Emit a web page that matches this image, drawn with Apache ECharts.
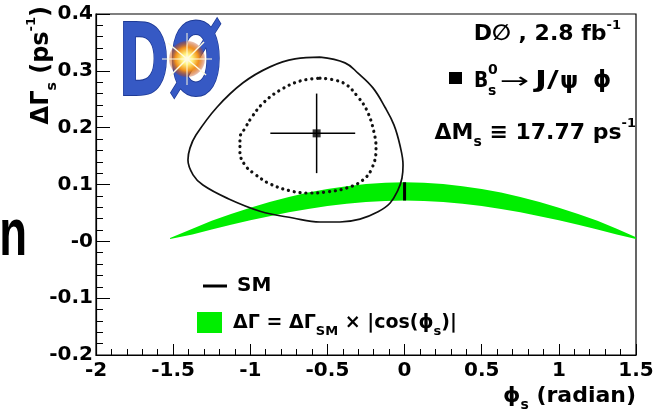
<!DOCTYPE html>
<html><head><meta charset="utf-8">
<script src="https://cdn.jsdelivr.net/npm/echarts@6/dist/echarts.min.js"></script>
<style>html,body{margin:0;padding:0;background:#fff}#c{width:659px;height:414px}</style>
</head><body><div id="c"></div>
<script>
// ---- tick labels ----
const xTicks = [-2, -1.5, -1, -0.5, 0, 0.5, 1, 1.5];
const xTickLabels = ['-2', '-1.5', '-1', '-0.5', '0', '0.5', '1', '1.5'];
const yTicks = [-0.2, -0.1, 0, 0.1, 0.2, 0.3, 0.4];
const yTickLabels = ['-0.2', '-0.1', '-0', '0.1', '0.2', '0.3', '0.4'];

// ---- outer (solid) contour: phi_s, DeltaGamma_s ----
const solidPhi = [-0.548, -0.386, -0.302, -0.205, -0.127, -0.069, -0.030, -0.010, -0.017, -0.043, -0.095, -0.172, -0.289, -0.419, -0.548, -0.723, -0.937, -1.151, -1.307, -1.371, -1.404, -1.391, -1.352, -1.216, -1.047, -0.872, -0.710, -0.548];
const solidDG  = [0.324, 0.314, 0.296, 0.270, 0.236, 0.205, 0.169, 0.134, 0.111, 0.090, 0.067, 0.052, 0.039, 0.034, 0.034, 0.041, 0.053, 0.076, 0.099, 0.117, 0.143, 0.164, 0.187, 0.236, 0.279, 0.307, 0.321, 0.324];

// ---- inner (dotted) contour ----
const dottedPhi = [-0.548, -0.399, -0.302, -0.237, -0.192, -0.185, -0.211, -0.269, -0.373, -0.503, -0.632, -0.743, -0.872, -0.969, -1.034, -1.067, -1.067, -1.034, -0.989, -0.918, -0.807, -0.678, -0.548];
const dottedDG  = [0.287, 0.279, 0.254, 0.226, 0.184, 0.161, 0.129, 0.108, 0.094, 0.087, 0.085, 0.089, 0.101, 0.118, 0.134, 0.157, 0.182, 0.199, 0.219, 0.243, 0.266, 0.282, 0.287];

// ---- green band: DeltaGamma = DeltaGamma_SM x |cos(phi_s)| ----
const bandPhi  = [-1.52, -1.375, -1.25, -1.125, -1.0, -0.875, -0.75, -0.625, -0.5, -0.375, -0.25, -0.125, 0, 0.125, 0.25, 0.375, 0.5, 0.625, 0.75, 0.875, 1.0, 1.125, 1.25, 1.375, 1.5];
const bandHigh = [0.006, 0.022, 0.036, 0.048, 0.059, 0.069, 0.078, 0.086, 0.092, 0.097, 0.101, 0.103, 0.104, 0.103, 0.101, 0.097, 0.092, 0.086, 0.078, 0.069, 0.059, 0.048, 0.036, 0.022, 0.007];
const bandLow  = [0.004, 0.012, 0.021, 0.029, 0.037, 0.044, 0.051, 0.057, 0.062, 0.066, 0.069, 0.071, 0.072, 0.071, 0.069, 0.066, 0.062, 0.057, 0.051, 0.044, 0.037, 0.029, 0.021, 0.012, 0.004];

// ---- measurement with errors ----
const measPhi = [-0.57], measPhiErrMinus = [0.30], measPhiErrPlus = [0.25];
const measDG  = [0.19],  measDGErrMinus  = [0.07], measDGErrPlus  = [0.07];

// ---- SM prediction ----
const smPhi = [0.0], smDG = [0.088], smDGErr = [0.016];

const FONT = '"DejaVu Sans"';
const lab = (ticks, labels) => v => { const i = ticks.findIndex(t => Math.abs(t - v) < 1e-9); return i >= 0 ? labels[i] : ''; };
const zip = (a, b) => a.map((v, i) => [v, b[i]]);
const txt = (x, y, text, size, opts, weight) => Object.assign({type: 'text', x: x, y: y,
  style: {text: text, font: (weight || 'bold') + ' ' + size + 'px ' + FONT, fill: '#000', align: 'left', verticalAlign: 'middle'}}, opts || {});

const chart = echarts.init(document.getElementById('c'), null, {renderer: 'canvas'});
chart.setOption({
  animation: false,
  backgroundColor: '#fff',
  grid: {left: 96, top: 14, right: 23, bottom: 59, show: true, borderColor: '#000', borderWidth: 1.2, containLabel: false},
  xAxis: {
    type: 'value', min: -2, max: 1.5, interval: 0.5,
    axisLine: {onZero: false, lineStyle: {color: '#000', width: 1.2}},
    axisTick: {inside: true, length: 11, lineStyle: {color: '#000', width: 1}},
    minorTick: {show: true, splitNumber: 5, length: 6, lineStyle: {color: '#000', width: 1}},
    splitLine: {show: false},
    axisLabel: {formatter: lab(xTicks, xTickLabels), color: '#000', fontFamily: FONT, fontWeight: 'bold', fontSize: 20, margin: 6}
  },
  yAxis: {
    type: 'value', min: -0.2, max: 0.4, interval: 0.1,
    axisLine: {onZero: false, lineStyle: {color: '#000', width: 1.2}},
    axisTick: {inside: true, length: 14, lineStyle: {color: '#000', width: 1}},
    minorTick: {show: true, splitNumber: 5, length: 7, lineStyle: {color: '#000', width: 1}},
    splitLine: {show: false},
    axisLabel: {formatter: lab(yTicks, yTickLabels), color: '#000', fontFamily: FONT, fontWeight: 'bold', fontSize: 20, margin: 3}
  },
  series: [
    {
      name: 'band', type: 'custom', z: 1,
      data: bandPhi.map((p, i) => [p, bandHigh[i], bandLow[i]]),
      encode: {x: 0, y: [1, 2]},
      renderItem: function (params, api) {
        if (params.dataIndex !== 0) return null;
        const pts = [];
        for (let i = 0; i < bandPhi.length; i++) pts.push(api.coord([bandPhi[i], bandHigh[i]]));
        for (let i = bandPhi.length - 1; i >= 0; i--) pts.push(api.coord([bandPhi[i], bandLow[i]]));
        return {type: 'polygon', shape: {points: pts}, style: {fill: '#00ee00', stroke: null}};
      }
    },
    {
      name: 'contour outer', type: 'line', z: 3, data: zip(solidPhi, solidDG),
      smooth: 0.4, showSymbol: false, symbol: 'none',
      lineStyle: {color: '#111', width: 1.7}
    },
    {
      name: 'contour inner', type: 'line', z: 3, data: zip(dottedPhi, dottedDG),
      smooth: 0.4, showSymbol: false, symbol: 'none',
      lineStyle: {color: '#111', width: 3.2, type: [0.1, 5.8], cap: 'round'}
    },
    {
      name: 'SM', type: 'line', z: 4,
      data: [[smPhi[0], smDG[0] - smDGErr[0]], [smPhi[0], smDG[0] + smDGErr[0]]],
      showSymbol: false, symbol: 'none', lineStyle: {color: '#000', width: 3}
    },
    {
      name: 'errors', type: 'custom', z: 4,
      data: measPhi.map((p, i) => [p, measDG[i], p - measPhiErrMinus[i], p + measPhiErrPlus[i], measDG[i] - measDGErrMinus[i], measDG[i] + measDGErrPlus[i]]),
      encode: {x: 0, y: 1},
      renderItem: function (params, api) {
        const x = api.value(0), y = api.value(1);
        const l = api.coord([api.value(2), y]), r = api.coord([api.value(3), y]);
        const b = api.coord([x, api.value(4)]), t = api.coord([x, api.value(5)]);
        const st = {stroke: '#000', lineWidth: 1.5};
        return {type: 'group', children: [
          {type: 'line', shape: {x1: l[0], y1: l[1], x2: r[0], y2: r[1]}, style: st},
          {type: 'line', shape: {x1: b[0], y1: b[1], x2: t[0], y2: t[1]}, style: st}
        ]};
      }
    },
    {
      name: 'B_s -> J/psi phi', type: 'scatter', z: 5,
      data: zip(measPhi, measDG), symbol: 'rect', symbolSize: 8,
      itemStyle: {color: '#000'}
    }
  ],
  graphic: [
    // stray slide letter at left edge
    {type: 'text', x: 27, y: 237, scaleX: 0.68, style: {text: 'n', font: 'bold 67px "Liberation Sans"', fill: '#000', align: 'right', verticalAlign: 'middle'}},
    // DØ logo (approximation)
    {type: 'text', x: 118, y: 19, scaleX: 0.62, scaleY: 1.0, z: 10,
      style: {text: 'DØ', font: 'bold 100px "DejaVu Sans"', fill: '#3659c4', stroke: '#1e3a96', lineWidth: 2, align: 'left', verticalAlign: 'top'}},
    {type: 'circle', shape: {cx: 187, cy: 59, r: 18}, z: 11,
      style: {fill: {type: 'radial', x: 0.5, y: 0.5, r: 0.5, colorStops: [
        {offset: 0, color: '#ffffff'}, {offset: 0.3, color: '#fff07a'}, {offset: 0.65, color: '#f2921c'}, {offset: 1, color: 'rgba(190,60,10,0.3)'}]}}},
    {type: 'line', shape: {x1: 168, y1: 43, x2: 206, y2: 75}, z: 12, style: {stroke: '#fffbe0', lineWidth: 1.5}},
    {type: 'line', shape: {x1: 204, y1: 42, x2: 170, y2: 76}, z: 12, style: {stroke: '#fffbe0', lineWidth: 1.5}},
    {type: 'line', shape: {x1: 187, y1: 33, x2: 187, y2: 85}, z: 12, style: {stroke: '#fffbe0', lineWidth: 1}},
    {type: 'line', shape: {x1: 162, y1: 59, x2: 212, y2: 59}, z: 12, style: {stroke: '#fffbe0', lineWidth: 1}},

    // y axis title
    {type: 'text', x: 42, y: 6, rotation: Math.PI / 2,
      style: {text: 'ΔΓ{sub|s} (ps{sup|-1})', font: 'bold 24px ' + FONT, fill: '#000', align: 'right', verticalAlign: 'middle',
        rich: {sub: {fontFamily: 'DejaVu Sans', fontWeight: 'bold', fontSize: 14, verticalAlign: 'bottom', lineHeight: 34},
               sup: {fontFamily: 'DejaVu Sans', fontWeight: 'bold', fontSize: 13, verticalAlign: 'top', lineHeight: 34}}}},
    // x axis title
    {type: 'text', x: 636, y: 396,
      style: {text: 'ϕ{sub|s} (radian)', font: 'bold 22px ' + FONT, fill: '#000', align: 'right', verticalAlign: 'middle',
        rich: {sub: {fontFamily: 'DejaVu Sans', fontWeight: 'bold', fontSize: 14, verticalAlign: 'bottom', lineHeight: 32}}}},

    // top-right annotations
    {type: 'text', x: 621, y: 34,
      style: {text: 'D∅ , 2.8 fb{sup|-1}', font: 'bold 22px ' + FONT, fill: '#000', align: 'right', verticalAlign: 'middle',
        rich: {sup: {fontFamily: 'DejaVu Sans', fontWeight: 'bold', fontSize: 13, verticalAlign: 'top', lineHeight: 30}}}},
    {type: 'rect', shape: {x: 449, y: 72, width: 13, height: 12}, style: {fill: '#000'}},
    txt(474, 81, 'B', 22, {scaleX: 0.85}),
    txt(488, 70, '0', 14),
    txt(488, 91, 's', 14),
    txt(500, 82, '→', 22, {scaleX: 1.6}, 'normal'),
    txt(535, 81, 'J/', 23, {scaleX: 1.4}),
    txt(560, 82, 'ψ', 23),
    txt(593, 81, 'ϕ', 23),
    {type: 'text', x: 636, y: 133,
      style: {text: 'ΔM{sub|s} ≡ 17.77 ps{sup|-1}', font: 'bold 22px ' + FONT, fill: '#000', align: 'right', verticalAlign: 'middle',
        rich: {sub: {fontFamily: 'DejaVu Sans', fontWeight: 'bold', fontSize: 14, verticalAlign: 'bottom', lineHeight: 32},
               sup: {fontFamily: 'DejaVu Sans', fontWeight: 'bold', fontSize: 13, verticalAlign: 'top', lineHeight: 30}}}},

    // legend
    {type: 'line', shape: {x1: 203, y1: 286, x2: 227, y2: 286}, style: {stroke: '#000', lineWidth: 3}},
    txt(237, 286, 'SM', 20),
    {type: 'rect', shape: {x: 197, y: 312, width: 25, height: 21}, style: {fill: '#00ee00'}},
    {type: 'text', x: 233, y: 323,
      style: {text: 'ΔΓ = ΔΓ{sub|SM} × |cos(ϕ{sub|s})|', font: 'bold 19px ' + FONT, fill: '#000', align: 'left', verticalAlign: 'middle',
        rich: {sub: {fontFamily: 'DejaVu Sans', fontWeight: 'bold', fontSize: 13, verticalAlign: 'bottom', lineHeight: 30}}}}
  ]
});
</script></body></html>
